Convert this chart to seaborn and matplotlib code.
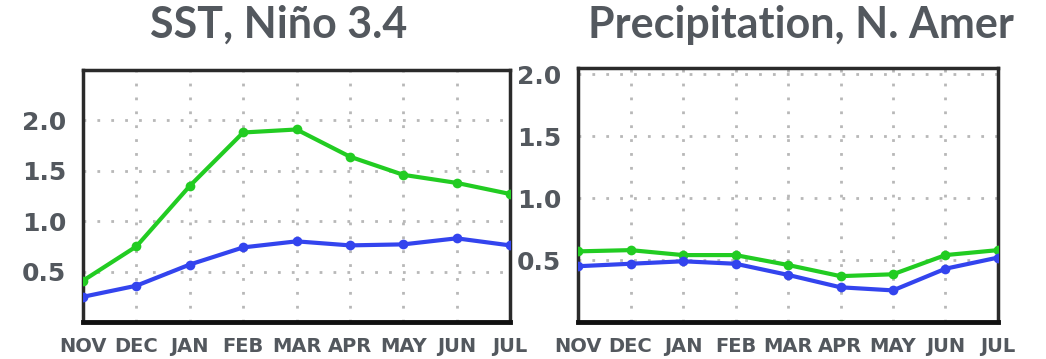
import numpy as np
import pandas as pd
import matplotlib
matplotlib.use("Agg")
import matplotlib.pyplot as plt
import seaborn as sns

# Monthly composites, November through July
months = ["NOV", "DEC", "JAN", "FEB", "MAR", "APR", "MAY", "JUN", "JUL"]

sst_green = [0.41, 0.75, 1.35, 1.88, 1.91, 1.64, 1.46, 1.38, 1.27]
sst_blue = [0.25, 0.36, 0.57, 0.74, 0.80, 0.76, 0.77, 0.83, 0.76]

precip_green = [0.57, 0.58, 0.54, 0.54, 0.46, 0.37, 0.385, 0.54, 0.58]
precip_blue = [0.45, 0.47, 0.49, 0.47, 0.38, 0.28, 0.255, 0.43, 0.52]

sst_ticks = [0.5, 1.0, 1.5, 2.0]
precip_ticks = [0.5, 1.0, 1.5, 2.0]

GREEN = "#22cc22"
BLUE = "#3344ee"
TEXT = "#53585e"

sns.set_theme(style="white")
plt.rcParams["font.family"] = ["DejaVu Sans"]


def long_frame(green, blue):
    n = len(months)
    return pd.DataFrame({
        "pos": list(range(n)) * 2,
        "value": list(green) + list(blue),
        "series": ["green"] * n + ["blue"] * n,
    })


fig = plt.figure(figsize=(10.46, 3.59), dpi=100)
ax1 = fig.add_axes([0.0794, 0.1031, 0.4082, 0.7019])
ax2 = fig.add_axes([0.5526, 0.1031, 0.4015, 0.7075])


def style_panel(ax, df, ymax, yticks):
    sns.lineplot(data=df, x="pos", y="value", hue="series",
                 palette={"green": GREEN, "blue": BLUE},
                 marker="o", markersize=7, markeredgewidth=0,
                 linewidth=3, ax=ax, legend=False, zorder=3)
    ax.set_xlim(0, len(months) - 1)
    ax.set_ylim(0, ymax)
    ax.set_xticks(range(len(months)))
    ax.set_xticklabels(months)
    ax.set_yticks(yticks)
    ax.set_yticklabels([f"{t:.1f}" for t in yticks])
    ax.set_xlabel("")
    ax.set_ylabel("")
    ax.grid(True, color="#b8b8b8", linestyle=(0, (1, 4)), linewidth=2)
    ax.tick_params(axis="x", length=0, pad=11, labelsize=14, labelcolor=TEXT)
    ax.tick_params(axis="y", length=0, pad=12, labelsize=18, labelcolor=TEXT)
    for lab in ax.get_xticklabels() + ax.get_yticklabels():
        lab.set_fontweight("bold")
    for side in ("top", "left", "right"):
        ax.spines[side].set_visible(True)
        ax.spines[side].set_color("#2a2a2a")
        ax.spines[side].set_linewidth(2.5)
        ax.spines[side].set_linestyle((0, (3, 1)))
    ax.spines["bottom"].set_color("#111111")
    ax.spines["bottom"].set_linewidth(3.5)


style_panel(ax1, long_frame(sst_green, sst_blue), 2.5, sst_ticks)
style_panel(ax2, long_frame(precip_green, precip_blue), 2.05, precip_ticks)

title_font = dict(family=["Lato", "DejaVu Sans"], fontsize=31,
                  fontweight="bold", color=TEXT, ha="center", va="center")
fig.text(0.266, 0.93, "SST, Niño 3.4", **title_font)
fig.text(0.766, 0.93, "Precipitation, N. Amer", **title_font)

fig.savefig("out.png", dpi=100, facecolor="white")
